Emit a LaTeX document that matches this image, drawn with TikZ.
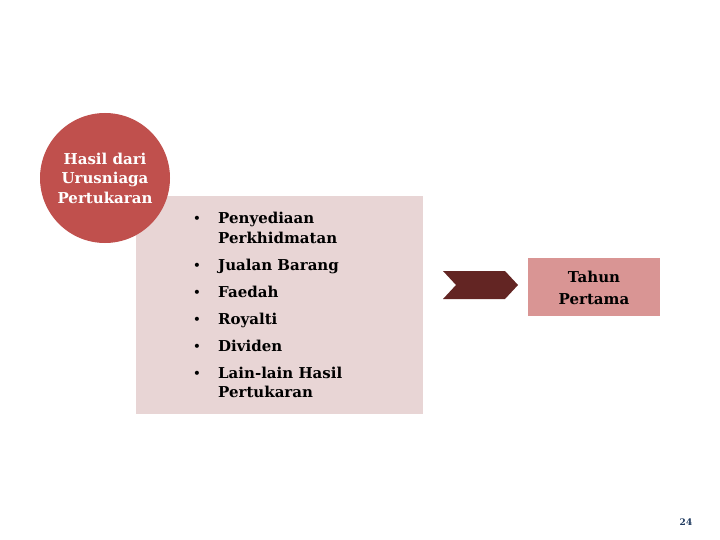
\documentclass[tikz,border=0pt]{standalone}
\usepackage{fontspec}
\setmainfont{DejaVu Serif}
\definecolor{circ}{HTML}{C0504D}
\definecolor{panel}{HTML}{E8D5D5}
\definecolor{chev}{HTML}{632523}
\definecolor{tbox}{HTML}{D99594}
\definecolor{pnum}{HTML}{1F3A5F}
\tikzset{
  itemtxt/.style={anchor=west, inner sep=0pt, text height=10pt, text depth=3pt, font=\fontsize{15}{18}\selectfont\bfseries, text=black},
  bul/.style={anchor=center, inner sep=0pt, text height=10pt, text depth=3pt, font=\fontsize{14}{16}\selectfont},
}
\begin{document}
\begin{tikzpicture}[x=1pt,y=-1pt]
\useasboundingbox (0,0) rectangle (720,540);
\fill[panel] (136,196) rectangle (423,414);
\node[circle, fill=circ, minimum size=130pt, inner sep=0pt, text=white, align=center,
  font=\fontsize{15}{19.5}\selectfont\bfseries] (c) at (105,178) {Hasil dari\\Urusniaga\\Pertukaran};
\node[itemtxt] (i1) at (218,220) {Penyediaan};
\node[itemtxt] (i1b) at (218,240) {Perkhidmatan};
\node[itemtxt] (i2) at (218,267) {Jualan Barang};
\node[itemtxt] (i3) at (218,294) {Faedah};
\node[itemtxt] (i4) at (218,321) {Royalti};
\node[itemtxt] (i5) at (218,348) {Dividen};
\node[itemtxt] (i6) at (218,375) {Lain-lain Hasil};
\node[itemtxt] (i6b) at (218,394) {Pertukaran};
\foreach \y/\n in {220/b1,267/b2,294/b3,321/b4,348/b5,375/b6}
  \node[bul] (\n) at (197,\y) {•};
\fill[chev] (443,271) -- (505,271) -- (518,285) -- (505,299) -- (443,299) -- (456,285) -- cycle;
\fill[tbox] (528,258) rectangle (660,316);
\node[inner sep=0pt, align=center,
  font=\fontsize{15}{22}\selectfont\bfseries] (t) at (594,288) {Tahun\\Pertama};
\node[font=\fontsize{9}{10}\selectfont\bfseries, text=pnum, inner sep=0pt] (p) at (686,522) {24};
\end{tikzpicture}
\end{document}
